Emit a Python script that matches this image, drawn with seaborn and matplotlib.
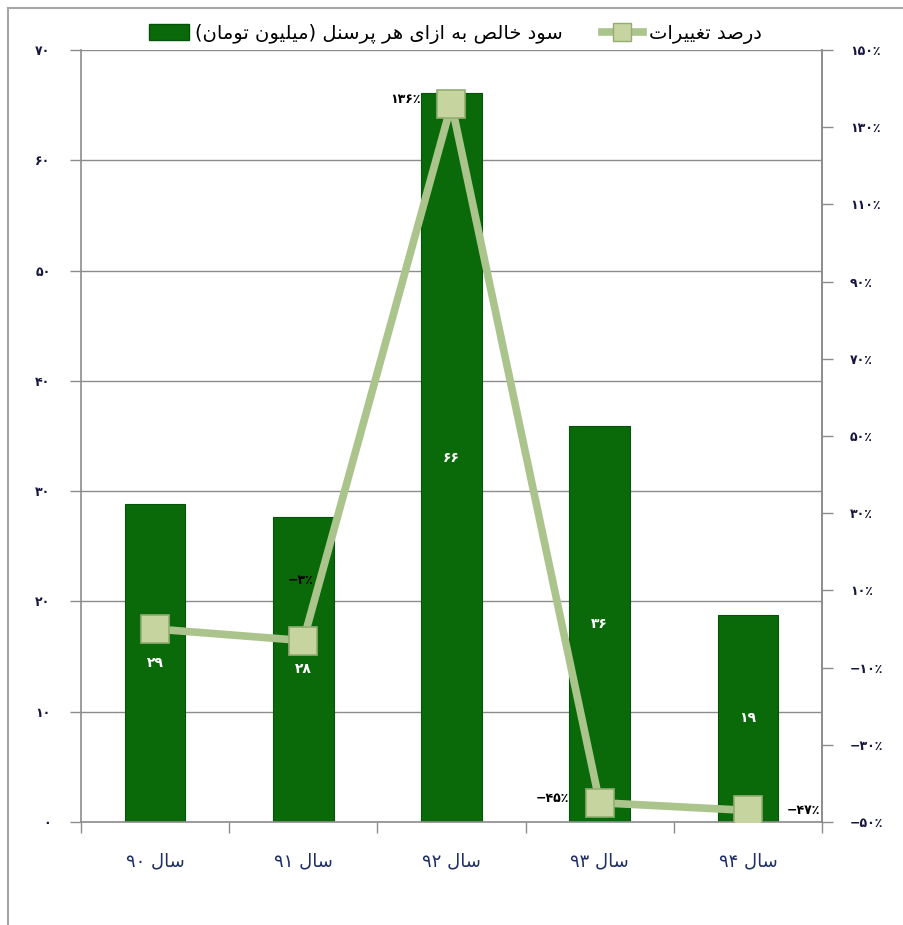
import re
import numpy as np
import pandas as pd
import matplotlib
matplotlib.use('Agg')
import matplotlib.pyplot as plt
from matplotlib.patches import Patch
from matplotlib.lines import Line2D
import seaborn as sns

# data
years = ['سال ۹۰', 'سال ۹۱', 'سال ۹۲', 'سال ۹۳', 'سال ۹۴']
profit = [28.8, 27.7, 66.1, 35.9, 18.8]
change = [0, -3, 136, -45, -47]
change_shown = [False, True, True, True, True]
bar_name = 'سود خالص به ازای هر پرسنل (میلیون تومان)'
line_name = 'درصد تغییرات'
left_ticks = [0, 10, 20, 30, 40, 50, 60, 70]
right_ticks = [-50, -30, -10, 10, 30, 50, 70, 90, 110, 130, 150]

# label offsets in points (dx, dy, ha)
label_pos = [None, (-2, 43, 'center'), (-22, 3, 'right'), (-22, 3, 'right'), (28, 0, 'left')]

# --- minimal arabic shaping (matplotlib has no bidi / joining) ---
FORMS = {
    'ا': ('\uFE8D', '\uFE8E', None, None),
    'ب': ('\uFE8F', '\uFE90', '\uFE91', '\uFE92'),
    'ت': ('\uFE95', '\uFE96', '\uFE97', '\uFE98'),
    'خ': ('\uFEA5', '\uFEA6', '\uFEA7', '\uFEA8'),
    'د': ('\uFEA9', '\uFEAA', None, None),
    'ر': ('\uFEAD', '\uFEAE', None, None),
    'ز': ('\uFEAF', '\uFEB0', None, None),
    'س': ('\uFEB1', '\uFEB2', '\uFEB3', '\uFEB4'),
    'ص': ('\uFEB9', '\uFEBA', '\uFEBB', '\uFEBC'),
    'غ': ('\uFECD', '\uFECE', '\uFECF', '\uFED0'),
    'ل': ('\uFEDD', '\uFEDE', '\uFEDF', '\uFEE0'),
    'م': ('\uFEE1', '\uFEE2', '\uFEE3', '\uFEE4'),
    'ن': ('\uFEE5', '\uFEE6', '\uFEE7', '\uFEE8'),
    'ه': ('\uFEE9', '\uFEEA', '\uFEEB', '\uFEEC'),
    'و': ('\uFEED', '\uFEEE', None, None),
    'پ': ('\uFB56', '\uFB57', '\uFB58', '\uFB59'),
    'ی': ('\uFBFC', '\uFBFD', '\uFBFE', '\uFBFF'),
}
MIRROR = {'(': ')', ')': '('}


def dual(c):
    return c in FORMS and FORMS[c][2] is not None


def rtl(s):
    out = []
    for i, c in enumerate(s):
        if c not in FORMS:
            out.append(c)
            continue
        prev = i > 0 and dual(s[i - 1])
        nxt = dual(c) and i + 1 < len(s) and s[i + 1] in FORMS
        iso, fin, ini, med = FORMS[c]
        if prev and nxt:
            out.append(med)
        elif prev:
            out.append(fin)
        elif nxt:
            out.append(ini)
        else:
            out.append(iso)
    tokens = re.findall(r'[0-9۰-۹]+|.', ''.join(out))
    return ''.join(MIRROR.get(t, t) for t in reversed(tokens))


def fa(n):
    return str(n).translate(str.maketrans('0123456789', '۰۱۲۳۴۵۶۷۸۹'))


def pct(v):
    return ('−' + fa(-v) if v < 0 else fa(v)) + '٪'


plt.rcParams['font.family'] = ['DejaVu Sans']
bar_color = '#0A6A0A'
line_color = '#AAC48C'
tick_color = '#16163E'

df = pd.DataFrame({'year': [rtl(y) for y in years], 'profit': profit})

fig = plt.figure(figsize=(9.04, 9.25), dpi=100)
ax = fig.add_axes([81 / 904, 1 - 822 / 925, 741 / 904, 772 / 925])

sns.barplot(data=df, x='year', y='profit', color=bar_color, width=0.41,
            saturation=1, edgecolor='#06520A', linewidth=0.8, ax=ax)
ax.bar_label(ax.containers[0], labels=[fa(round(v)) for v in profit],
             label_type='center', color='white', fontsize=10, fontweight='bold')

ax.set_ylim(0, 70)
ax.set_xlim(-0.5, 4.5)
ax.set_yticks(left_ticks)
ax.set_yticklabels([fa(t) for t in left_ticks], fontsize=9, fontweight='bold',
                   color=tick_color)
ax.yaxis.grid(True, color='#8C8C8C', linewidth=1)
ax.set_axisbelow(True)
ax.set_xlabel('')
ax.set_ylabel('')
ax.tick_params(axis='x', which='major', length=0, pad=22, labelsize=13,
               labelcolor='#1E2E66')
ax.set_xticks(np.arange(-0.5, 5, 1), minor=True)
ax.tick_params(axis='x', which='minor', length=8, color='#8C8C8C', width=1)
ax.tick_params(axis='y', length=8, color='#8C8C8C', width=1, pad=14)
for side in ['left', 'bottom', 'right']:
    ax.spines[side].set_color('#8C8C8C')
    ax.spines[side].set_linewidth(1.2)
ax.spines['top'].set_visible(False)

ax2 = ax.twinx()
sns.lineplot(x=np.arange(len(change)), y=change, ax=ax2, color=line_color,
             linewidth=5.5, marker='s', markersize=20, markerfacecolor='#C6D5A0',
             markeredgecolor='#93AC72', markeredgewidth=1.2, legend=False)
ax2.set_ylim(-50, 150)
ax2.set_yticks(right_ticks)
ax2.set_yticklabels([pct(t) for t in right_ticks],
                    fontsize=9, fontweight='bold', color=tick_color)
ax2.tick_params(axis='y', length=8, color='#8C8C8C', width=1, pad=12)
for side in ['left', 'bottom', 'top']:
    ax2.spines[side].set_visible(False)
ax2.spines['right'].set_color('#8C8C8C')
ax2.spines['right'].set_linewidth(1.2)

for i, v in enumerate(change):
    if not change_shown[i]:
        continue
    dx, dy, ha = label_pos[i]
    ax2.annotate(pct(v), (i, v), xytext=(dx, dy), textcoords='offset points',
                 ha=ha, va='center', fontsize=9, fontweight='bold', color='black')

handles = [Patch(facecolor=bar_color, edgecolor='#06520A'),
           Line2D([0], [0], color=line_color, linewidth=5.5, marker='s',
                  markersize=13, markerfacecolor='#C6D5A0',
                  markeredgecolor='#93AC72')]
fig.legend(handles, [rtl(bar_name), rtl(line_name)], loc='center',
           bbox_to_anchor=(455 / 904, 1 - 34 / 925), ncol=2, frameon=False,
           fontsize=14, handlelength=2.1, handleheight=0.9, columnspacing=2.0,
           handletextpad=0.3)

fig.add_artist(Line2D([8 / 904, 8 / 904], [0, 1 - 8 / 925], transform=fig.transFigure,
                      color='#A6A6A6', linewidth=1.5))
fig.add_artist(Line2D([8 / 904, 1], [1 - 8 / 925, 1 - 8 / 925], transform=fig.transFigure,
                      color='#A6A6A6', linewidth=1.5))

fig.savefig('out.png', dpi=100)
